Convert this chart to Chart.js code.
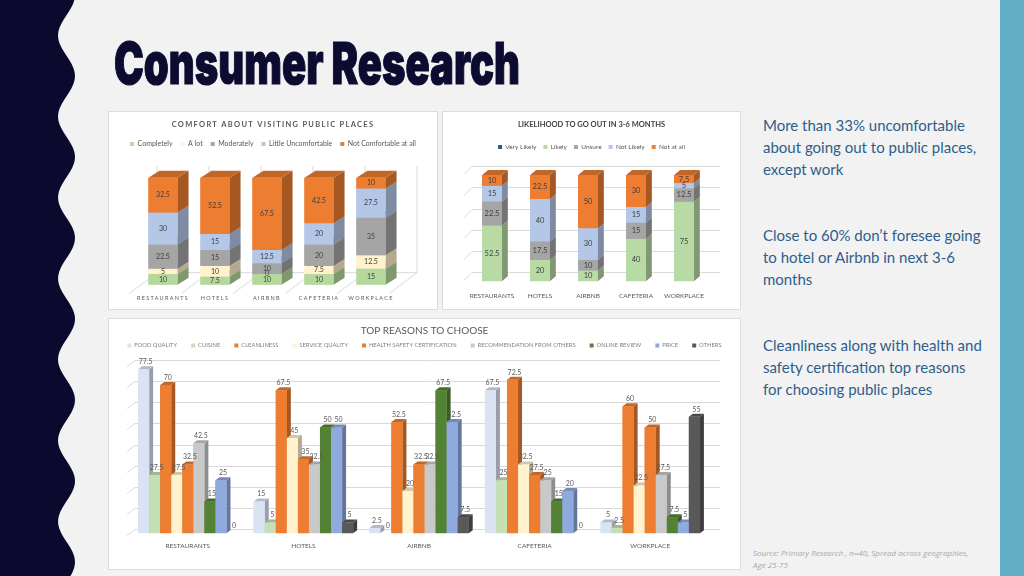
<!DOCTYPE html>
<html>
<head>
<meta charset="utf-8">
<script src="https://cdn.jsdelivr.net/npm/chart.js@4.4.1/dist/chart.umd.min.js"></script>
<style>
html, body { margin: 0; padding: 0; }
body { width: 1024px; height: 576px; background: #f2f2f2; position: relative; overflow: hidden; font-family: "Open Sans", sans-serif; }
#wave { position: absolute; left: 0; top: 0; }
#teal { position: absolute; left: 1000px; top: 0; width: 24px; height: 576px; background: #63afc7; }
#title { position: absolute; left: 114px; top: 34px; font-family: Inter, "DejaVu Sans Condensed"; font-weight: 900; font-size: 58px; line-height: 58px; color: #0c0b30; -webkit-text-stroke: 1.2px #0c0b30; white-space: nowrap; transform-origin: 0 0; }
.panel { position: absolute; background: #fff; border: 1px solid #dcdcdc; box-sizing: border-box; }
canvas { position: absolute; }
.note { position: absolute; left: 763px; font-family: Lato, sans-serif; font-size: 15px; line-height: 22px; color: #2e5e8c; white-space: nowrap; }
#src { position: absolute; left: 753px; top: 547px; font-family: "Open Sans", sans-serif; font-style: italic; font-size: 8px; line-height: 12px; color: #a8a8a8; white-space: nowrap; }
</style>
</head>
<body>
<svg id="wave" width="90" height="576"><path id="wavePath" fill="#0b0a2e"/></svg>
<div id="teal"></div>
<div id="title">Consumer Research</div>

<div class="panel" style="left:108px;top:111px;width:330px;height:199px"></div>
<div class="panel" style="left:442px;top:111px;width:299px;height:199px"></div>
<div class="panel" style="left:108px;top:318px;width:633px;height:252px"></div>
<canvas id="comfort" width="330" height="199" style="left:108px;top:111px"></canvas>
<canvas id="likely" width="299" height="199" style="left:442px;top:111px"></canvas>
<canvas id="reasons" width="633" height="252" style="left:108px;top:318px"></canvas>

<div class="note" style="top:114px">More than 33% uncomfortable<br>about going out to public places,<br>except work</div>
<div class="note" style="top:224px">Close to 60% don’t foresee going<br>to hotel or Airbnb in next 3-6<br>months</div>
<div class="note" style="top:334px">Cleanliness along with health and<br>safety certification top reasons<br>for choosing public places</div>
<div id="src">Source: Primary Research , n=40, Spread across geographies,<br>Age 25-75</div>

<script>
// 카테고리 (세 차트 공통)
const places = ['RESTAURANTS', 'HOTELS', 'AIRBNB', 'CAFETERIA', 'WORKPLACE'];

// comfort about visiting public places (%)
const comfortLevels = ['Completely', 'A lot', 'Moderately', 'Little Uncomfortable', 'Not Comfortable at all'];
const comfortCompletely = [10, 7.5, 10, 10, 15];
const comfortALot = [5, 10, 0, 7.5, 12.5];
const comfortModerately = [22.5, 15, 10, 20, 35];
const comfortLittle = [30, 15, 12.5, 20, 27.5];
const comfortNotAtAll = [32.5, 52.5, 67.5, 42.5, 10];

// likelihood to go out in 3-6 months (%)
const likelyLevels = ['Very Likely', 'Likely', 'Unsure', 'Not Likely', 'Not at all'];
const likelyVery = [0, 0, 0, 0, 0];
const likelyLikely = [52.5, 20, 10, 40, 75];
const likelyUnsure = [22.5, 17.5, 10, 15, 12.5];
const likelyNot = [15, 40, 30, 15, 5];
const likelyNotAtAll = [10, 22.5, 50, 30, 7.5];

// top reasons to choose (%)
const reasons = ['FOOD QUALITY', 'CUISINE', 'CLEANLINESS', 'SERVICE QUALITY', 'HEALTH SAFETY CERTIFICATION',
	'RECOMMENDATION FROM OTHERS', 'ONLINE REVIEW', 'PRICE', 'OTHERS'];
const foodQuality = [77.5, 15, 2.5, 67.5, 5];
const cuisine = [27.5, 5, 0, 25, 2.5];
const cleanliness = [70, 67.5, 52.5, 72.5, 60];
const serviceQuality = [27.5, 45, 20, 32.5, 22.5];
const healthSafety = [32.5, 35, 32.5, 27.5, 50];
const recommendation = [42.5, 32.5, 32.5, 25, 27.5];
const onlineReview = [15, 50, 67.5, 15, 7.5];
const price = [25, 50, 52.5, 20, 5];
const others = [0, 5, 7.5, 0, 55];

//왼쪽 물결 장식
(function () {
	let d = 'M0,0';
	for (let y = 0; y <= 576; y += 4) {
		let x = 66.5 + 8.5 * Math.sin(2 * Math.PI * (y - 157) / 81 + Math.PI / 2);
		d += ' L' + x.toFixed(1) + ',' + y;
	}
	d += ' L0,576 Z';
	document.getElementById('wavePath').setAttribute('d', d);
})();

//제목 폭 맞추기
(function () {
	const t = document.getElementById('title');
	const w = t.getBoundingClientRect().width;
	t.style.transform = 'scaleX(' + (406 / w) + ')';
})();

//색 어둡게
function shade(hex, f) {
	const n = parseInt(hex.slice(1), 16);
	const r = Math.round(((n >> 16) & 255) * f);
	const g = Math.round(((n >> 8) & 255) * f);
	const b = Math.round((n & 255) * f);
	return 'rgb(' + r + ',' + g + ',' + b + ')';
}

//3D 막대 + 값 라벨 플러그인
const bar3d = {
	id: 'bar3d',
	beforeDraw(chart, args, o) {
		if (chart.$spaced) return;
		chart.$spaced = true;
		const ctx = chart.ctx;
		if (o.tickSpacing) {
			const sc = chart.scales.x;
			const drawLabels = sc.drawLabels;
			sc.drawLabels = function (area) {
				ctx.letterSpacing = o.tickSpacing;
				drawLabels.call(this, area);
				ctx.letterSpacing = '0px';
			};
		}
		if (o.titleSpacing && chart.titleBlock) {
			const tb = chart.titleBlock;
			const draw = tb.draw;
			tb.draw = function (area) {
				ctx.letterSpacing = o.titleSpacing;
				draw.call(this, area);
				ctx.letterSpacing = '0px';
			};
		}
	},
	beforeDatasetsDraw(chart, args, o) {
		const ctx = chart.ctx;
		const ys = chart.scales.y;
		const xs = chart.scales.x;
		const a = chart.chartArea;
		ctx.save();
		ctx.strokeStyle = '#d9d9d9';
		ctx.lineWidth = 1;
		//뒷벽 눈금선
		if (o.grid) {
			for (let v = 0; v <= o.gridMax; v += o.grid) {
				const py = Math.round(ys.getPixelForValue(v) - o.wall.dy) + 0.5;
				ctx.beginPath();
				ctx.moveTo(a.left + o.wall.dx - o.diag.dx, py + o.diag.dy);
				ctx.lineTo(a.left + o.wall.dx, py);
				ctx.lineTo(a.right + o.wall.dx + o.ext, py);
				ctx.stroke();
			}
		}
		//바닥
		if (o.floor) {
			const f = o.floor;
			const y0 = ys.getPixelForValue(0);
			const yt = ys.getPixelForValue(100);
			for (let k = 0; k <= chart.data.labels.length; k++) {
				const xb = xs.getPixelForValue(k - 0.5);
				ctx.beginPath();
				ctx.moveTo(xb + f.fx, y0 + f.fy);
				ctx.lineTo(xb + f.bx, y0 - f.by);
				ctx.lineTo(xb + f.bx, yt - f.by);
				ctx.stroke();
			}
			ctx.beginPath();
			ctx.moveTo(xs.getPixelForValue(-0.5) + f.bx, y0 - f.by);
			ctx.lineTo(xs.getPixelForValue(chart.data.labels.length - 0.5) + f.bx, y0 - f.by);
			ctx.stroke();
		}
		ctx.restore();
	},
	afterDatasetsDraw(chart, args, o) {
		const ctx = chart.ctx;
		const dx = o.dx, dy = o.dy;
		const n = chart.data.datasets.length;
		const cats = chart.data.labels.length;
		ctx.save();
		for (let j = 0; j < cats; j++) {
			for (let i = 0; i < n; i++) {
				const ds = chart.data.datasets[i];
				if (!ds.data[j]) continue;
				const el = chart.getDatasetMeta(i).data[j];
				const col = ds.backgroundColor;
				const l = el.x - el.width / 2, r = el.x + el.width / 2;
				const t = Math.min(el.y, el.base), b = Math.max(el.y, el.base);
				//옆면
				ctx.fillStyle = shade(col, 0.7);
				ctx.beginPath();
				ctx.moveTo(r, b); ctx.lineTo(r, t); ctx.lineTo(r + dx, t - dy); ctx.lineTo(r + dx, b - dy);
				ctx.closePath(); ctx.fill();
				//윗면
				ctx.fillStyle = shade(col, 0.82);
				ctx.beginPath();
				ctx.moveTo(l, t); ctx.lineTo(r, t); ctx.lineTo(r + dx, t - dy); ctx.lineTo(l + dx, t - dy);
				ctx.closePath(); ctx.fill();
				//앞면
				ctx.fillStyle = col;
				ctx.fillRect(l, t, r - l, b - t);
			}
		}
		//값 라벨
		ctx.fillStyle = o.labelColor;
		ctx.font = o.labelSize + 'px Lato';
		ctx.textAlign = 'center';
		for (let i = 0; i < n; i++) {
			const ds = chart.data.datasets[i];
			ds.data.forEach((v, j) => {
				if (!v && !o.showZero) return;
				const el = chart.getDatasetMeta(i).data[j];
				if (o.labels == 'center') {
					ctx.textBaseline = 'middle';
					ctx.fillText(String(v), el.x, (el.y + el.base) / 2);
				} else {
					ctx.textBaseline = 'bottom';
					ctx.fillText(String(v), el.x + dx / 2, Math.min(el.y, el.base) - dy - 1);
				}
			});
		}
		ctx.restore();
	}
};

function xAxis(size, pad) {
	return {
		grid: { display: false, drawTicks: false },
		border: { display: false },
		ticks: { padding: pad, color: '#595959', font: { family: 'Lato', size: size }, maxRotation: 0, minRotation: 0, autoSkip: false }
	};
}

//범례 폭을 줄이지 않고 옆 여백만 주는 빈 축
function padAxis(pos, w) {
	return {
		type: 'linear', position: pos, display: true,
		ticks: { display: false }, grid: { display: false }, border: { display: false },
		afterFit(s) { s.width = w; }
	};
}

//comfort 차트
const comfortX = xAxis(5.5, 10.5);
comfortX.stacked = true;
new Chart(document.getElementById('comfort'), {
	type: 'bar',
	data: {
		labels: places,
		datasets: [
			{ label: comfortLevels[0], data: comfortCompletely, backgroundColor: '#b5d99c' },
			{ label: comfortLevels[1], data: comfortALot, backgroundColor: '#fff2cc' },
			{ label: comfortLevels[2], data: comfortModerately, backgroundColor: '#a5a5a5' },
			{ label: comfortLevels[3], data: comfortLittle, backgroundColor: '#b4c7e7' },
			{ label: comfortLevels[4], data: comfortNotAtAll, backgroundColor: '#ed7d31' }
		]
	},
	options: {
		responsive: false,
		animation: false,
		layout: { padding: { bottom: -2.3 } },
		datasets: { bar: { categoryPercentage: 0.56, barPercentage: 1 } },
		scales: {
			x: comfortX,
			y: { stacked: true, display: false, min: 0, max: 119 },
			padL: padAxis('left', 29),
			padR: padAxis('right', 41)
		},
		plugins: {
			title: {
				display: true, text: 'COMFORT ABOUT VISITING PUBLIC PLACES', color: '#595959',
				font: { family: 'Lato', size: 7.5, weight: 'bold' }, padding: { top: 9.5, bottom: 3 }
			},
			legend: {
				labels: { boxWidth: 4, boxHeight: 4, padding: 8, color: '#595959', font: { family: 'Lato', size: 7 } }
			},
			tooltip: { enabled: false },
			bar3d: {
				dx: 11, dy: 7, labels: 'center', labelColor: '#404040', labelSize: 7, showZero: true,
				floor: { bx: 20, by: 12, fx: -8, fy: 9 }, tickSpacing: '1.3px', titleSpacing: '1.3px'
			}
		}
	},
	plugins: [bar3d]
});

//likelihood 차트
const likelyX = xAxis(6.5, 11);
likelyX.stacked = true;
new Chart(document.getElementById('likely'), {
	type: 'bar',
	data: {
		labels: places,
		datasets: [
			{ label: likelyLevels[0], data: likelyVery, backgroundColor: '#2f5597' },
			{ label: likelyLevels[1], data: likelyLikely, backgroundColor: '#b8dba5' },
			{ label: likelyLevels[2], data: likelyUnsure, backgroundColor: '#a5a5a5' },
			{ label: likelyLevels[3], data: likelyNot, backgroundColor: '#b4c7e7' },
			{ label: likelyLevels[4], data: likelyNotAtAll, backgroundColor: '#ed7d31' }
		]
	},
	options: {
		responsive: false,
		animation: false,
		layout: { padding: { bottom: -1 } },
		datasets: { bar: { categoryPercentage: 0.41, barPercentage: 1 } },
		scales: {
			x: likelyX,
			y: { stacked: true, display: false, min: 0, max: 114 },
			padL: padAxis('left', 26),
			padR: padAxis('right', 33)
		},
		plugins: {
			title: {
				display: true, text: 'LIKELIHOOD TO GO OUT IN 3-6 MONTHS', color: '#404040',
				font: { family: 'Lato', size: 7.5, weight: 'bold' }, padding: { top: 9.5, bottom: 7.25 }
			},
			legend: {
				labels: { boxWidth: 4, boxHeight: 4, padding: 7, color: '#595959', font: { family: 'Lato', size: 6.5 } }
			},
			tooltip: { enabled: false },
			bar3d: {
				dx: 6, dy: 5, labels: 'center', labelColor: '#404040', labelSize: 7.5, showZero: false,
				grid: 20, gridMax: 100, wall: { dx: 4, dy: 9 }, diag: { dx: 8, dy: 8 }, ext: 8
			}
		}
	},
	plugins: [bar3d]
});

//top reasons 차트
const reasonColors = ['#dae3f3', '#c5e0b4', '#ed7d31', '#fff2cc', '#ed7d31', '#c9c9c9', '#548235', '#8faadc', '#595959'];
const reasonData = [foodQuality, cuisine, cleanliness, serviceQuality, healthSafety, recommendation, onlineReview, price, others];
new Chart(document.getElementById('reasons'), {
	type: 'bar',
	data: {
		labels: places,
		datasets: reasons.map((r, i) => ({ label: r, data: reasonData[i], backgroundColor: reasonColors[i] }))
	},
	options: {
		responsive: false,
		animation: false,
		layout: { padding: { bottom: 11 } },
		datasets: { bar: { categoryPercentage: 0.86, barPercentage: 1 } },
		scales: {
			x: xAxis(6.5, 9),
			y: { display: false, min: 0, max: 82.6 },
			padL: padAxis('left', 22),
			padR: padAxis('right', 33)
		},
		plugins: {
			title: {
				display: true, text: 'TOP REASONS TO CHOOSE', color: '#595959',
				font: { family: 'Lato', size: 10, weight: 'normal' }, padding: { top: 7, bottom: -8.4 }
			},
			legend: {
				labels: { boxWidth: 4, boxHeight: 4, padding: 14, color: '#7f7f7f', font: { family: 'Lato', size: 5.8 } }
			},
			tooltip: { enabled: false },
			bar3d: {
				dx: 4, dy: 3, labels: 'top', labelColor: '#595959', labelSize: 7, showZero: true,
				grid: 10, gridMax: 80, wall: { dx: 5, dy: 4 }, diag: { dx: 8, dy: 6 }, ext: 7
			}
		}
	},
	plugins: [bar3d]
});
</script>
</body>
</html>
